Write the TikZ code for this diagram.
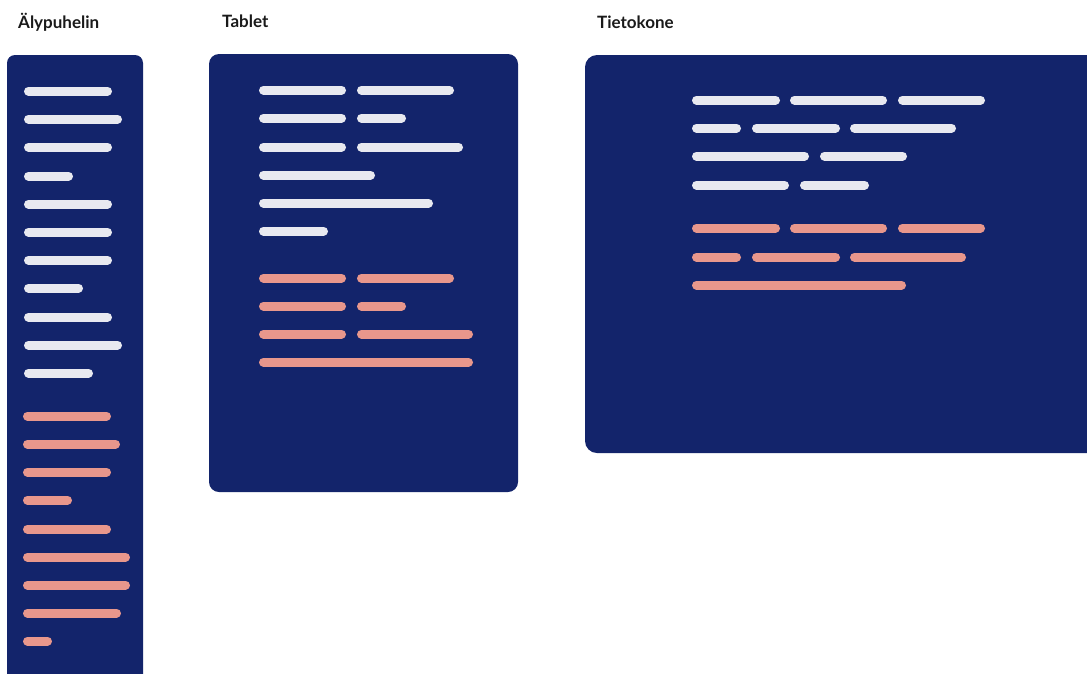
\documentclass[tikz,border=0pt]{standalone}
\usepackage{fontspec}
\setmainfont{Lato}
\usepackage{tikz}
\tikzset{
  screen/.style={fill=navyscreen, draw=none},
  bar/.style={line width=9pt, line cap=round},
  title/.style={anchor=base west, inner sep=0pt, font=\fontsize{17}{20}\selectfont\bfseries, text=titleink}
}
\newcommand{\rowbar}[4][]{%
  \draw[bar,#1] ({#3+\barhalf},#2) -- ({#4-\barhalf},#2);%
}
\definecolor{navyscreen}{HTML}{13246B}
\definecolor{paperwhite}{HTML}{E8E9F0}
\definecolor{salmon}{HTML}{E8978C}
\definecolor{titleink}{HTML}{1A1A1A}

\begin{document}
\begin{tikzpicture}[x=1pt, y=-1pt]

      % half-length of a bar cap
      \def\barhalf{4.5}

      \useasboundingbox (0,0) rectangle (1087,673);
      \clip (0,0) rectangle (1087,673);

      % titles
      \node[title] (phonetitle) at (18,28) {Älypuhelin};
      \node[title] (tablettitle) at (222,27) {Tablet};
      \node[title] (pctitle) at (597,28) {Tietokone};

      % screens
      \draw[screen, rounded corners=8pt] (7,55) rectangle (143,700);
      \draw[screen, rounded corners=10pt] (209,54) rectangle (518,492);
      \draw[screen, rounded corners=12pt] (585,55) rectangle (1110,453);

      % phone, text lines
      \foreach \y/\b in {
        91/112, 119/122, 147/112, 176/73, 204/112, 232/112,
        260/112, 288/83, 317/112, 345/122, 373/93
      }{
        \rowbar[paperwhite]{\y}{24}{\b}
      }

      % phone, link lines
      \foreach \y/\b in {
        416/111, 444/120, 472/111, 500/72, 529/111,
        557/130, 585/130, 613/121, 641/52
      }{
        \rowbar[salmon]{\y}{23}{\b}
      }

      % tablet, text lines
      \foreach \y/\a/\b in {
        90/259/346, 90/357/454,
        118/259/346, 118/357/406,
        147/259/346, 147/357/463,
        175/259/375,
        203/259/433,
        231/259/328
      }{
        \rowbar[paperwhite]{\y}{\a}{\b}
      }

      % tablet, link lines
      \foreach \y/\a/\b in {
        278/259/346, 278/357/454,
        306/259/346, 306/357/406,
        334/259/346, 334/357/473,
        362/259/473
      }{
        \rowbar[salmon]{\y}{\a}{\b}
      }

      % computer, text lines
      \foreach \y/\a/\b in {
        100/692/780, 100/790/887, 100/898/985,
        128/692/741, 128/752/840, 128/850/956,
        156/692/809, 156/820/907,
        185/692/789, 185/800/869
      }{
        \rowbar[paperwhite]{\y}{\a}{\b}
      }

      % computer, link lines
      \foreach \y/\a/\b in {
        228/692/780, 228/790/887, 228/898/985,
        257/692/741, 257/752/840, 257/850/966,
        285/692/906
      }{
        \rowbar[salmon]{\y}{\a}{\b}
      }

    \end{tikzpicture}
\end{document}
